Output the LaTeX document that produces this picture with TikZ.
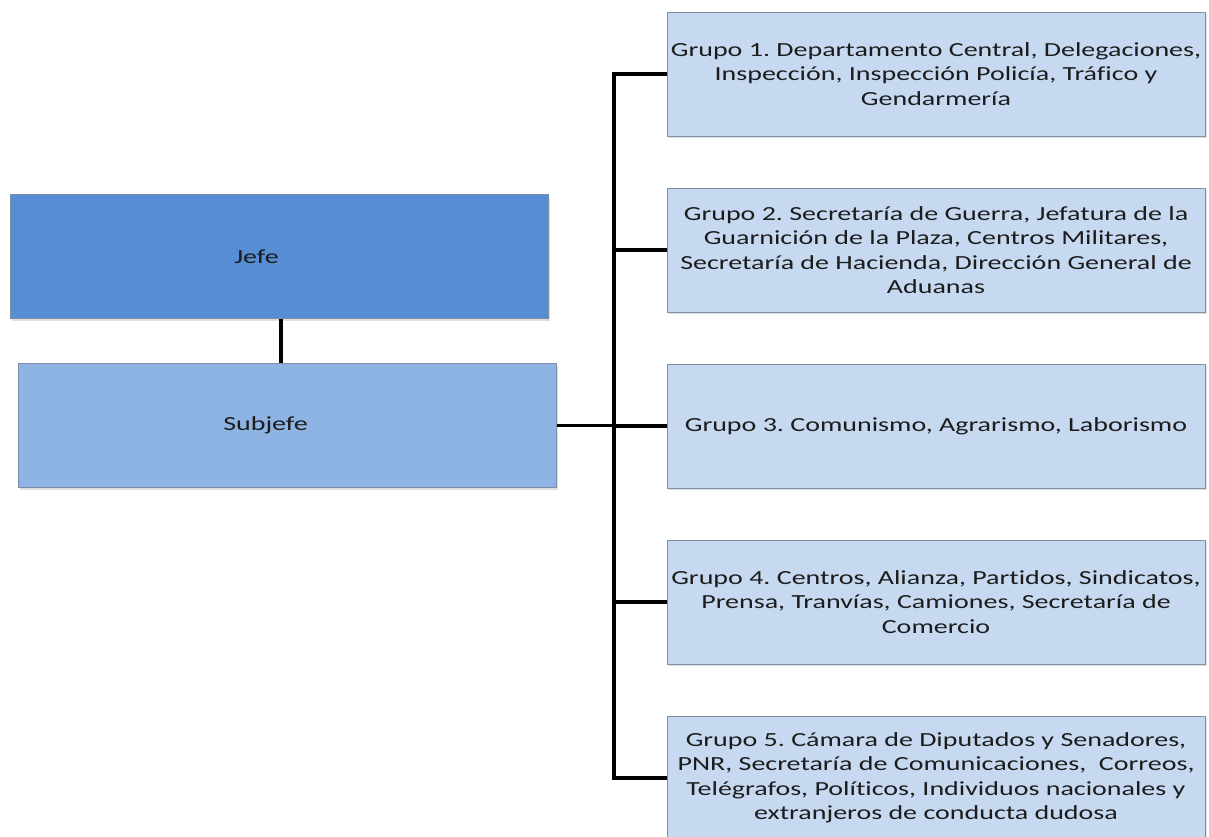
\documentclass[tikz,border=0pt]{standalone}
\usepackage{fontspec}
\setmainfont{Carlito}[FakeStretch=1.4, Ligatures=NoCommon]
\usetikzlibrary{shadows}
\definecolor{jefeblue}{HTML}{558ED5}
\definecolor{subblue}{HTML}{8EB4E3}
\definecolor{grpblue}{HTML}{C6D9F1}
\definecolor{edgegray}{HTML}{7F8FA3}
\definecolor{inkgray}{HTML}{1C1C1C}
\tikzset{
  box/.style={draw=edgegray, line width=0.8pt, minimum width=538pt, minimum height=124pt,
    inner sep=0pt, align=center, text=inkgray, font=\fontsize{20}{24.5}\selectfont\frenchspacing,
    drop shadow={shadow xshift=1.5pt, shadow yshift=-2pt, opacity=0.25}},
  link/.style={draw=black, line width=3.5pt}
}
\begin{document}
\begin{tikzpicture}[x=1pt,y=-1pt]
\useasboundingbox (0,0) rectangle (1209,837);
\begin{scope}
\clip (0,0) rectangle (1209,837);
% left column
\node[box, fill=jefeblue] (jefe) at (279.5,256.5) {Jefe\hspace*{46pt}};
\node[box, fill=subblue] (sub) at (287.5,425.5) {Subjefe\hspace*{44pt}};
% right column
\node[box, fill=grpblue] (g1) at (936,74) {Grupo 1. Departamento Central, Delegaciones,\\Inspección, Inspección Policía, Tráfico y\\Gendarmería};
\node[box, fill=grpblue] (g2) at (936,250) {Grupo 2. Secretaría de Guerra, Jefatura de la\\Guarnición de la Plaza, Centros Militares,\\Secretaría de Hacienda, Dirección General de\\Aduanas};
\node[box, fill=grpblue] (g3) at (936,426) {Grupo 3. Comunismo, Agrarismo, Laborismo};
\node[box, fill=grpblue] (g4) at (936,602) {Grupo 4. Centros, Alianza, Partidos, Sindicatos,\\Prensa, Tranvías, Camiones, Secretaría de\\Comercio};
\node[box, fill=grpblue] (g5) at (936,778) {Grupo 5. Cámara de Diputados y Senadores,\\PNR, Secretaría de Comunicaciones,\ \ Correos,\\Telégrafos, Políticos, Individuos nacionales y\\extranjeros de conducta dudosa};
% connectors
\coordinate (trunk) at (614,426);
\draw[link] (jefe.south -| 281,0) -- (sub.north -| 281,0);
\draw[link] (sub.east) -- (sub.east -| trunk);
\draw[link] (g1.west) -| (trunk) |- (g5.west);
\draw[link] (g2.west) -- (g2.west -| trunk);
\draw[link] (g3.west) -- (g3.west -| trunk);
\draw[link] (g4.west) -- (g4.west -| trunk);
\end{scope}
\end{tikzpicture}
\end{document}
